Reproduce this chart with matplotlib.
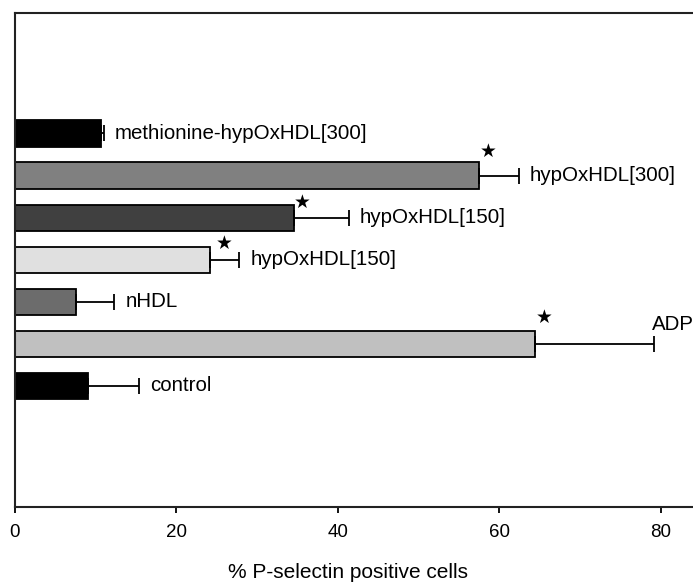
import matplotlib
matplotlib.use("Agg")
import matplotlib.pyplot as plt
import numpy as np

# ---- data (top to bottom as drawn) ----
labels = ["methionine-hypOxHDL[300]", "hypOxHDL[300]", "hypOxHDL[150]",
          "hypOxHDL[150]", "nHDL", "ADP", "control"]
values = [10.7, 57.5, 34.6, 24.2, 7.5, 64.4, 9.0]
errors = [0.35, 4.95, 6.8, 3.6, 4.8, 14.8, 6.4]
significant = [False, True, True, True, False, True, False]
xticks = [0, 20, 40, 60, 80]
xlabel = "% P-selectin positive cells"

# ---- style ----
colors = ["#000000", "#808080", "#404040", "#e0e0e0", "#6c6c6c", "#c0c0c0", "#000000"]
star_offsets = [(0, 0), (9, 24), (8, 15), (14, 16), (0, 0), (9, 26), (0, 0)]  # pixels

plt.rcParams['font.family'] = ['Liberation Sans', 'DejaVu Sans']

fig = plt.figure(figsize=(6.93, 5.83), dpi=100)
ax = fig.add_axes([15/693, 1 - 506.7/583, 1 - 15/693, (506.7 - 12.7)/583])

n = len(values)
pos = np.arange(n)[::-1]  # top bar gets highest position

ax.barh(pos, values, height=0.62, color=colors, edgecolor="black", linewidth=1.3, zorder=2)
ax.errorbar(values, pos, xerr=[np.zeros(n), errors], fmt="none", ecolor="black",
            elinewidth=1.3, capsize=5.5, capthick=1.3, zorder=3)

for i in range(n):
    xe = values[i] + errors[i]
    if labels[i] == "ADP":
        ax.annotate(labels[i], xy=(xe, pos[i]), xytext=(-2, 19), textcoords="offset pixels",
                    ha="left", va="center", fontsize=14.8)
    else:
        ax.annotate(labels[i], xy=(xe, pos[i]), xytext=(11, 0), textcoords="offset pixels",
                    ha="left", va="center", fontsize=14.8)
    if significant[i]:
        dx, dy = star_offsets[i]
        ax.annotate("\u2605", xy=(values[i], pos[i]), xytext=(dx, dy), textcoords="offset pixels",
                    ha="center", va="center", fontsize=13.5, family="DejaVu Sans")

ax.set_xlim(0, (693 - 15) / 8.07)
ax.set_ylim(-2.87, n - 1 + 2.87)
ax.set_xticks(xticks)
ax.set_yticks([])
ax.tick_params(axis="x", direction="out", length=4.5, width=1.3, pad=8, labelsize=13.5)
for s in ["left", "bottom", "top"]:
    ax.spines[s].set_linewidth(1.5)
    ax.spines[s].set_color("#222222")
ax.spines["right"].set_visible(False)

fig.text(348/693, 1 - 572/583, xlabel, ha="center", va="center", fontsize=15)

fig.savefig("out.png", dpi=100)
